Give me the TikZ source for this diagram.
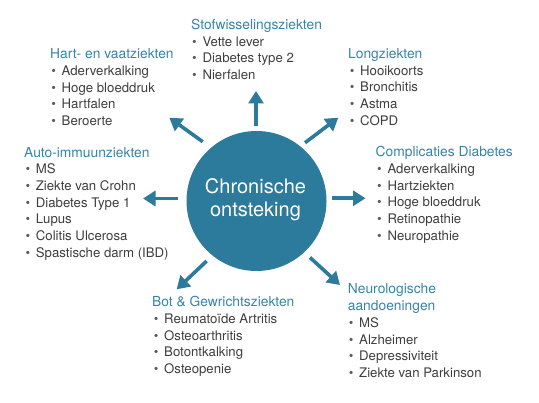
\documentclass[tikz,border=0pt]{standalone}
\usepackage{fontspec}
\setmainfont{TeX Gyre Heros}
\usetikzlibrary{arrows.meta}
\definecolor{circblue}{HTML}{2C7A9C}
\definecolor{headblue}{HTML}{3585A9}
\definecolor{bodygray}{HTML}{3E3E3E}
\definecolor{bulgray}{HTML}{5A5A5A}
\newcommand\itm[1]{\makebox[10.3pt][l]{\textcolor{bulgray}{\textbullet}}#1}
% name, head x, head baseline, heading, item text x, first item baseline, items
\newcommand\diseasegroup[7]{%
  \node[head] (#1) at (#2,#3) {#4};
  \foreach \t [count=\i] in {#7}
    \node[item] (#1-\i) at (#5-10.3, #6+16.7*\i-16.7) {\itm{\t}};
}
\tikzset{
  head/.style={anchor=base west, inner sep=0pt, text=headblue, font=\fontsize{13.8}{16.7}\selectfont},
  item/.style={anchor=base west, inner sep=0pt, text=bodygray, font=\fontsize{13.2}{16.7}\selectfont},
  core/.style={circle, fill=circblue, draw=none, minimum size=140pt, inner sep=0pt},
  coretext/.style={anchor=base, inner sep=0pt, text=white, font=\fontsize{20}{24}\selectfont},
  ray/.style={draw=circblue, line width=3.6pt, -{Triangle[length=12.5pt,width=15pt]}},
}
\begin{document}
\begin{tikzpicture}[x=1pt, y=-1pt]
\fill[white] (0,0) rectangle (539,403);
\path[use as bounding box] (0,0) rectangle (539,403);

% central circle
\node[core] (core) at (256.5,201) {};
\node[coretext] (core-a) at (255.5,193.3) {Chronische};
\node[coretext] (core-b) at (255.5,216.7) {ontsteking};

% groups
\diseasegroup{stof}{191}{29.5}{Stofwisselingsziekten}{202.3}{46.2}{Vette lever,Diabetes type 2,Nierfalen}
\diseasegroup{hart}{50}{59}{Hart- en vaatziekten}{61.5}{75.6}{Aderverkalking,Hoge bloeddruk,Hartfalen,Beroerte}
\diseasegroup{long}{348}{58.6}{Longziekten}{360}{75.2}{Hooikoorts,Bronchitis,Astma,COPD}
\diseasegroup{auto}{24}{157.3}{Auto-immuunziekten}{35.7}{173.8}{MS,Ziekte van Crohn,Diabetes Type 1,Lupus,Colitis Ulcerosa,Spastische darm (IBD)}
\diseasegroup{compl}{375.5}{156.8}{Complicaties Diabetes}{387.3}{173.4}{Aderverkalking,Hartziekten,Hoge bloeddruk,Retinopathie,Neuropathie}
\diseasegroup{bot}{152}{306.7}{Bot \& Gewrichtsziekten}{164}{323.4}{Reumatoïde Artritis,Osteoarthritis,Botontkalking,Osteopenie}
\node[head] (neuro) at (347.7,294) {Neurologische};
\diseasegroup{neuro2}{347.7}{310.7}{aandoeningen}{359}{327.4}{MS,Alzheimer,Depressiviteit,Ziekte van Parkinson}

% arrow ends
\coordinate (tUp) at (256,126);   \coordinate (hUp) at (256,91);
\coordinate (tUL) at (202.7,141.7); \coordinate (hUL) at (169.3,117.7);
\coordinate (tUR) at (305,142.7); \coordinate (hUR) at (338.3,117.7);
\coordinate (tL) at (178,198.5);  \coordinate (hL) at (143,198.5);
\coordinate (tR) at (331.7,198.3); \coordinate (hR) at (365.5,198.3);
\coordinate (tLL) at (206.7,261); \coordinate (hLL) at (176.7,289.3);
\coordinate (tLR) at (310,257.5); \coordinate (hLR) at (340,285);

\draw[ray] (tUp) -- (hUp);
\draw[ray] (tUL) -- (hUL);
\draw[ray] (tUR) -- (hUR);
\draw[ray] (tL) -- (hL);
\draw[ray] (tR) -- (hR);
\draw[ray] (tLL) -- (hLL);
\draw[ray] (tLR) -- (hLR);
\end{tikzpicture}
\end{document}
